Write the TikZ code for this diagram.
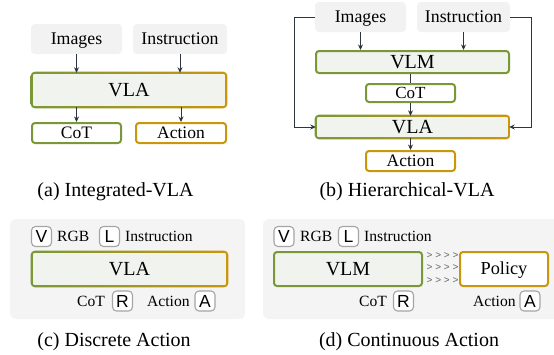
\documentclass[tikz,border=0pt]{standalone}
\usepackage{fontspec}
\setmainfont{Liberation Serif}
\newfontfamily\iconfont{Liberation Sans}
\usetikzlibrary{arrows.meta,calc}
\definecolor{vgreen}{RGB}{122,152,55}
\definecolor{vgold}{RGB}{202,150,12}
\definecolor{boxgray}{RGB}{242,242,242}
\definecolor{panelgray}{RGB}{244,244,244}
\definecolor{vlafill}{RGB}{241,243,238}
\definecolor{arrowcol}{RGB}{45,52,66}
\definecolor{icongray}{RGB}{165,165,165}
\newcommand\gradborder[1]{%
  \shade[left color=vgreen, right color=vgold, even odd rule, rounded corners=4pt]
    ($(#1.south west)+(-1.1pt,-1.1pt)$) rectangle ($(#1.north east)+(1.1pt,1.1pt)$)
    [rounded corners=2pt]
    ($(#1.south west)+(1pt,1pt)$) rectangle ($(#1.north east)+(-1pt,-1pt)$);}
\tikzset{
  inbox/.style={fill=boxgray, rounded corners=4pt, inner sep=0pt,
    font=\fontsize{17.8pt}{20pt}\selectfont, text height=11.7pt, text depth=0pt, minimum height=30pt},
  bigfont/.style={font=\fontsize{20pt}{22pt}\selectfont, text height=13.2pt, text depth=0pt},
  midfont/.style={font=\fontsize{17.5pt}{20pt}\selectfont, text height=11.6pt, text depth=0pt},
  gfillbox/.style={fill=vlafill, rounded corners=3pt, inner sep=0pt, bigfont},
  greenbox/.style={draw=vgreen, line width=2pt, fill=vlafill, rounded corners=3pt, inner sep=0pt, bigfont},
  cotbox/.style={draw=vgreen, line width=2pt, fill=white, rounded corners=3pt, inner sep=0pt, midfont},
  actbox/.style={draw=vgold, line width=2pt, fill=white, rounded corners=3pt, inner sep=0pt, midfont},
  arr/.style={draw=arrowcol, line width=0.9pt, -{Stealth[length=5.5pt,width=5pt]}},
  plainline/.style={draw=arrowcol, line width=0.9pt},
  caption/.style={font=\fontsize{20pt}{22pt}\selectfont, anchor=base, inner sep=0pt},
  panel/.style={fill=panelgray, rounded corners=6pt, inner sep=0pt},
  icon/.style={draw=icongray, line width=1.1pt, fill=white, rounded corners=4pt, inner sep=0pt,
    minimum width=20pt, minimum height=20pt, font=\iconfont\fontsize{17.5pt}{19pt}\selectfont,
    text height=12.5pt, text depth=0pt},
  lbl/.style={anchor=west, inner sep=0pt, font=\fontsize{15.6pt}{18pt}\selectfont,
    text height=10.3pt, text depth=0pt},
  chev/.style={inner sep=0pt, text=black!60, font=\iconfont\fontsize{10pt}{11pt}\selectfont}
}
\begin{document}
\begin{tikzpicture}[x=1pt,y=-1pt]
\useasboundingbox (0,0) rectangle (554,354);

% ---------- (a) Integrated-VLA ----------
\node[inbox, minimum width=91pt] (aimg) at (76.5,39) {Images};
\node[inbox, minimum width=94pt] (ains) at (180,39) {Instruction};
\node[gfillbox, minimum width=194pt, minimum height=34pt] (avla) at (129,90) {VLA};
\gradborder{avla}
\node[cotbox, minimum width=89pt, minimum height=20pt] (acot) at (76.5,133) {CoT};
\node[actbox, minimum width=90pt, minimum height=20pt] (aact) at (181,133) {Action};
\draw[arr] (aimg.south) -- (aimg.south |- avla.north);
\draw[arr] (ains.south) -- (ains.south |- avla.north);
\draw[arr] (avla.south -| acot.north) -- (acot.north);
\draw[arr] (avla.south -| aact.north) -- (aact.north);
\node[caption] (capa) at (115.5,196) {(a) Integrated-VLA};

% ---------- (b) Hierarchical-VLA ----------
\node[inbox, minimum width=91pt] (bimg) at (360.5,17) {Images};
\node[inbox, minimum width=93pt] (bins) at (463.5,17) {Instruction};
\node[greenbox, minimum width=193pt, minimum height=22pt] (bvlm) at (412.5,62) {VLM};
\node[cotbox, minimum width=89pt, minimum height=18pt, font=\fontsize{17pt}{19pt}\selectfont] (bcot) at (410.5,93) {CoT};
\node[gfillbox, minimum width=193pt, minimum height=22pt] (bvla) at (412.5,127) {VLA};
\gradborder{bvla}
\node[actbox, minimum width=89pt, minimum height=20pt] (bact) at (410.5,161) {Action};
\draw[arr] (bimg.south) -- (bimg.south |- bvlm.north);
\draw[arr] (bins.south) -- (bins.south |- bvlm.north);
\draw[plainline] (bvlm.south -| bcot.north) -- (bcot.north);
\draw[arr] (bcot.south) -- (bcot.south |- bvla.north);
\draw[arr] (bvla.south -| bact.north) -- (bact.north);
\draw[arr] (bimg.west) -- ++(-20,0) |- (bvla.west);
\draw[arr] (bins.east) -- ++(21,0) |- (bvla.east);
\node[caption] (capb) at (407,196) {(b) Hierarchical-VLA};

% ---------- (c) Discrete Action ----------
\node[panel, minimum width=235pt, minimum height=100pt] (pc) at (127.5,269) {};
\node[icon] (cv) at (41.5,236.5) {V};
\node[lbl] (crgb) at (57,236.5) {RGB};
\node[icon] (cl) at (109.5,236.5) {L};
\node[lbl] (cins) at (125,236.5) {Instruction};
\node[gfillbox, minimum width=195pt, minimum height=34pt] (cvla) at (129.5,269) {VLA};
\gradborder{cvla}
\node[lbl] (ccot) at (77,301) {CoT};
\node[icon] (cr) at (122.5,301) {R};
\node[lbl] (cact) at (147,301) {Action};
\node[icon] (ca) at (205,301) {A};
\node[caption] (capc) at (114,346) {(c) Discrete Action};

% ---------- (d) Continuous Action ----------
\node[panel, minimum width=297pt, minimum height=100pt] (pd) at (411.5,269) {};
\node[icon] (dv) at (284,236.5) {V};
\node[lbl] (drgb) at (300,236.5) {RGB};
\node[icon] (dl) at (348.5,236.5) {L};
\node[lbl] (dins) at (364,236.5) {Instruction};
\node[greenbox, minimum width=148pt, minimum height=34pt] (dvlm) at (348,269) {VLM};
\node[actbox, minimum width=88pt, minimum height=34pt, font=\fontsize{18.3pt}{20pt}\selectfont] (dpol) at (504,269) {Policy};
\node[chev] (dc1) at (442.5,255.5) {> > > >};
\node[chev] (dc2) at (442.5,268) {> > > >};
\node[chev] (dc3) at (442.5,280.5) {> > > >};
\node[lbl] (dcot) at (359,301) {CoT};
\node[icon] (dr) at (403.5,301) {R};
\node[lbl] (dact) at (473,301) {Action};
\node[icon] (da) at (530,301) {A};
\node[caption] (capd) at (409,346) {(d) Continuous Action};
\end{tikzpicture}
\end{document}
